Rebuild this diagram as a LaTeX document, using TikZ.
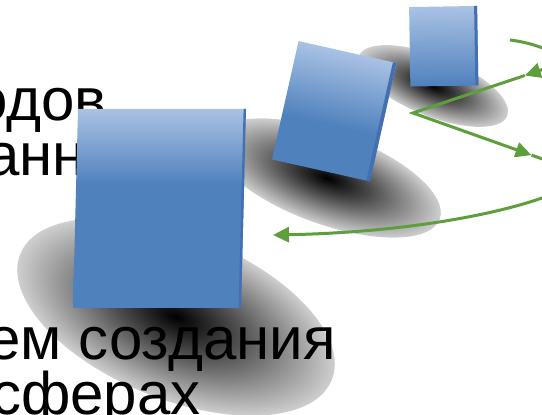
\documentclass[tikz,border=0pt]{standalone}
\usepackage{fontspec}
\setmainfont{Liberation Sans}
\usetikzlibrary{arrows.meta,calc}
\definecolor{sqlight}{HTML}{A9C2E4}
\definecolor{sqdark}{HTML}{4F81BD}
\definecolor{sqedge}{HTML}{4270B2}
\definecolor{arrgreen}{HTML}{5E9E3C}
\pgfdeclareverticalshading{sqA}{100bp}{color(0bp)=(sqdark); color(25bp)=(sqdark); color(56bp)=(sqdark); color(75bp)=(sqlight); color(100bp)=(sqlight)}
\pgfdeclareverticalshading{sqB}{100bp}{color(0bp)=(sqdark); color(25bp)=(sqdark); color(44bp)=(sqdark); color(75bp)=(sqlight); color(100bp)=(sqlight)}
\pgfdeclareverticalshading{sqC}{100bp}{color(0bp)=(sqdark); color(25bp)=(sqdark); color(75bp)=(sqlight); color(100bp)=(sqlight)}
\pgfdeclareradialshading{shd}{\pgfpoint{0bp}{0bp}}{color(0bp)=(black); color(9bp)=(black!72); color(25bp)=(black!19); color(50bp)=(black!19)}
\begin{document}
\begin{tikzpicture}[x=1pt,y=1pt,
  shadowfill/.style={shading=shd},
  txt/.style={anchor=base west, inner sep=0pt, font=\fontsize{60}{60}\selectfont},
  gline/.style={draw=arrgreen, line width=3pt},
  gtip/.style={gline, -{Triangle[length=16pt,width=15pt]}},
]
\useasboundingbox (0,0) rectangle (542,415);
\clip (0,0) rectangle (542,415);
% shadows
\begin{scope}[transform canvas={shift={(176pt,98pt)}, rotate=-22}]
  \shade[shadowfill] (0,0) ellipse [x radius=168pt, y radius=82pt];
\end{scope}
\begin{scope}[transform canvas={shift={(327pt,237pt)}, rotate=-20}]
  \shade[shadowfill] (0,0) ellipse [x radius=120pt, y radius=46pt];
\end{scope}
\begin{scope}[transform canvas={shift={(433pt,329pt)}, rotate=-22}]
  \shade[shadowfill] (0,0) ellipse [x radius=80pt, y radius=30pt];
\end{scope}
% text
\node[txt] (t1) at (-26,294) {одов};
\node[txt] (t2) at (-14,239) {анн};
\node[txt] (t3) at (-13,55) {ем создания};
\node[txt] (t4) at (-9,0) {сферах};
% big square
\coordinate (b1) at (78,306);
\coordinate (b2) at (246,306);
\coordinate (b3) at (241,107);
\coordinate (b4) at (73,107);
\shade[shading=sqA] (b1) -- (b2) -- (b3) -- (b4) -- cycle;
\fill[sqedge] (243.6,306) -- (b2) -- (b3) -- (238.6,107) -- cycle;
% middle square
\begin{scope}[transform canvas={shift={(334.25pt,303.75pt)}, rotate=-12.65}]
  \shade[shading=sqB] (-50.2,-60.65) rectangle (50.2,60.65);
  \fill[sqedge] (46.5,-60.65) rectangle (50.2,60.65);
\end{scope}
% small square
\begin{scope}[transform canvas={shift={(443.75pt,368.75pt)}, rotate=0.9}]
  \shade[shading=sqC] (-34,-39.75) rectangle (34,39.75);
  \fill[sqedge] (31,-39.75) rectangle (34,39.75);
\end{scope}
% arrows
\coordinate (p0) at (510,375);
\coordinate (q1) at (562,352);
\coordinate (v1) at (413,302);
\coordinate (q2) at (565,248);
\coordinate (r2) at (545,218);
\coordinate (e) at (273,180);
\coordinate (m1) at ($(q1)!0.25!(v1)$);
\coordinate (m2) at ($(v1)!0.78!(q2)$);
\draw[gtip] (p0) .. controls (535,372) and (560,362) .. (q1) -- (m1);
\draw[gtip] (m1) -- (v1) -- (m2);
\draw[gtip] (m2) -- (q2) .. controls (585,240) and (575,222) .. (r2) .. controls (480,195) and (380,182) .. (e);
\end{tikzpicture}
\end{document}
